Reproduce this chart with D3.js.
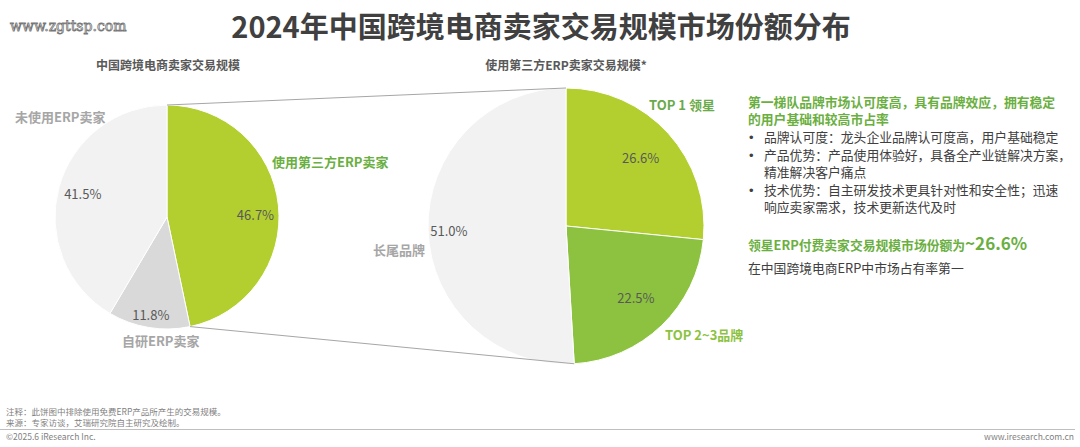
<!DOCTYPE html>
<html><head><meta charset="utf-8">
<script src="https://cdn.jsdelivr.net/npm/d3@7/dist/d3.min.js"></script>
<style>
html,body{margin:0;padding:0;background:#fff;}
svg{display:block;font-family:"Noto Sans CJK SC","Noto Sans",sans-serif;}
</style></head><body>
<svg id="c" width="1080" height="447"></svg>
<script>
// Data
const leftCategories = ["使用第三方ERP卖家", "自研ERP卖家", "未使用ERP卖家"];
const leftValues = [46.7, 11.8, 41.5];
const rightCategories = ["TOP 1 领星", "TOP 2~3品牌", "长尾品牌"];
const rightValues = [26.6, 22.5, 51.0];
const bulletLines = [
  ["品牌认可度：龙头企业品牌认可度高，用户基础稳定"],
  ["产品优势：产品使用体验好，具备全产业链解决方案，", "精准解决客户痛点"],
  ["技术优势：自主研发技术更具针对性和安全性；迅速", "响应卖家需求，技术更新迭代及时"]
];

const svg = d3.select("#c");
const leftColors = ["#b3cf2f", "#d9d9d9", "#f2f2f2"];
const rightColors = ["#b3cf2f", "#8cc23f", "#f2f2f2"];

// Title
svg.append("text").attr("x", 541).attr("y", 38).attr("text-anchor", "middle")
  .attr("font-size", 29).attr("font-weight", 700).attr("fill", "#404040")
  .text("2024年中国跨境电商卖家交易规模市场份额分布");
// watermark
svg.append("text").attr("x", 10).attr("y", 31).attr("font-size", 14)
  .attr("font-family", "DejaVu Serif, serif")
  .attr("fill", "#fff").attr("stroke", "#777").attr("stroke-width", 0.8)
  .text("www.zgttsp.com");

// Subtitles
svg.append("text").attr("x", 168).attr("y", 70).attr("text-anchor", "middle")
  .attr("font-size", 12).attr("font-weight", 700).attr("fill", "#595959")
  .text("中国跨境电商卖家交易规模");
svg.append("text").attr("x", 566).attr("y", 70).attr("text-anchor", "middle")
  .attr("font-size", 12).attr("font-weight", 700).attr("fill", "#595959")
  .text("使用第三方ERP卖家交易规模*");

const pie = d3.pie().sort(null).value(d => d);

// Left pie
const L = {cx: 167, cy: 217, r: 112};
const lArcs = pie(leftValues);
const lArc = d3.arc().innerRadius(0).outerRadius(L.r);
const gL = svg.append("g").attr("transform", `translate(${L.cx},${L.cy})`);
gL.selectAll("path").data(lArcs).join("path").attr("d", lArc)
  .attr("fill", (d, i) => leftColors[i]).attr("stroke", "#fff").attr("stroke-width", 1);

// Right pie
const R = {cx: 566, cy: 226, r: 138};
const rArcs = pie(rightValues);
const rArc = d3.arc().innerRadius(0).outerRadius(R.r);
const gR = svg.append("g").attr("transform", `translate(${R.cx},${R.cy})`);
gR.selectAll("path").data(rArcs).join("path").attr("d", rArc)
  .attr("fill", (d, i) => rightColors[i]).attr("stroke", "#fff").attr("stroke-width", 1);

// Connecting lines from left green slice edges to right pie's green edges
function pt(c, a, r) { return [c.cx + r * Math.sin(a), c.cy - r * Math.cos(a)]; }
const lTop = pt(L, lArcs[0].startAngle, L.r), lBot = pt(L, lArcs[0].endAngle, L.r);
const rTop = pt(R, rArcs[0].startAngle, R.r), rBot = pt(R, rArcs[1].endAngle, R.r);
svg.append("line").attr("x1", lTop[0]).attr("y1", lTop[1]).attr("x2", rTop[0]).attr("y2", rTop[1])
  .attr("stroke", "#a6a6a6").attr("stroke-width", 1);
svg.append("line").attr("x1", lBot[0]).attr("y1", lBot[1]).attr("x2", rBot[0]).attr("y2", rBot[1])
  .attr("stroke", "#a6a6a6").attr("stroke-width", 1);

// value labels
const valFmt = v => v.toFixed(1) + "%";
const lLabelR = [0.79, 0.89, 0.78];
gL.selectAll("text.v").data(lArcs).join("text").attr("class", "v")
  .attr("transform", (d, i) => {
    const a = (d.startAngle + d.endAngle) / 2 + (i === 0 ? 0.09 : 0);
    const r = L.r * lLabelR[i];
    return `translate(${r * Math.sin(a)},${-r * Math.cos(a)})`;
  })
  .attr("text-anchor", "middle").attr("dy", "0.35em")
  .attr("font-size", 13).attr("fill", "#595959")
  .text(d => valFmt(d.data));

const rLabelR = [0.73, 0.73, 0.85];
gR.selectAll("text.v").data(rArcs).join("text").attr("class", "v")
  .attr("transform", (d, i) => {
    const a = (d.startAngle + d.endAngle) / 2 + (i === 2 ? -0.02 : 0);
    const r = R.r * rLabelR[i];
    return `translate(${r * Math.sin(a)},${-r * Math.cos(a)})`;
  })
  .attr("text-anchor", "middle").attr("dy", "0.35em")
  .attr("font-size", 13).attr("fill", "#595959")
  .text(d => valFmt(d.data));

// category labels
function catLabel(x, y, t, fill, anchor) {
  svg.append("text").attr("x", x).attr("y", y).attr("text-anchor", anchor || "start")
    .attr("font-size", 13).attr("font-weight", 700).attr("fill", fill).text(t);
}
catLabel(15, 122, leftCategories[2], "#a6a6a6");
catLabel(272, 167, leftCategories[0], "#6aaf3f");
catLabel(122, 346, leftCategories[1], "#a6a6a6");
catLabel(649, 110, rightCategories[0], "#6aaa4a");
catLabel(665, 340, rightCategories[1], "#8cc23f");
catLabel(373, 255, rightCategories[2], "#a6a6a6");

// Right text block
const tx = 748, fs = 12.8;
const head = svg.append("text").attr("x", tx).attr("y", 107).attr("font-size", fs).attr("font-weight", 700)
  .attr("fill", "#6aaf3f");
head.append("tspan").attr("x", tx).text("第一梯队品牌市场认可度高，具有品牌效应，拥有稳定");
head.append("tspan").attr("x", tx).attr("dy", 17).text("的用户基础和较高市占率");
const bulletY = [142, 160, 195];
bulletLines.forEach((lines, i) => {
  svg.append("text").attr("x", tx + 1).attr("y", bulletY[i]).attr("font-size", 13)
    .attr("font-family", "Liberation Sans, Arial, sans-serif")
    .attr("fill", "#404040").text("•");
  const t = svg.append("text").attr("x", tx + 16).attr("y", bulletY[i]).attr("font-size", fs)
    .attr("fill", "#404040");
  lines.forEach((ln, j) => {
    t.append("tspan").attr("x", tx + 16).attr("dy", j === 0 ? 0 : 17).text(ln);
  });
});
const hl = svg.append("text").attr("x", tx).attr("y", 250).attr("font-weight", 700).attr("fill", "#6aaf3f");
hl.append("tspan").attr("font-size", fs).text("领星ERP付费卖家交易规模市场份额为");
hl.append("tspan").attr("font-size", 17).text("~" + valFmt(rightValues[0]));
svg.append("text").attr("x", tx).attr("y", 273).attr("font-size", fs).attr("fill", "#404040")
  .text("在中国跨境电商ERP中市场占有率第一");

// Footer
svg.append("text").attr("x", 6).attr("y", 415).attr("font-size", 8.5).attr("fill", "#7f7f7f")
  .text("注释：此饼图中排除使用免费ERP产品所产生的交易规模。");
svg.append("text").attr("x", 6).attr("y", 426).attr("font-size", 8.5).attr("fill", "#7f7f7f")
  .text("来源：专家访谈，艾瑞研究院自主研究及绘制。");
svg.append("line").attr("x1", 0).attr("x2", 1075).attr("y1", 429.5).attr("y2", 429.5)
  .attr("stroke", "#bfbfbf").attr("stroke-width", 1);
svg.append("text").attr("x", 6).attr("y", 440).attr("font-size", 8.5).attr("fill", "#7f7f7f")
  .text("©2025.6 iResearch Inc.");
svg.append("text").attr("x", 1074).attr("y", 440).attr("font-size", 8.5).attr("fill", "#7f7f7f")
  .attr("text-anchor", "end").text("www.iresearch.com.cn");
</script>
</body></html>
